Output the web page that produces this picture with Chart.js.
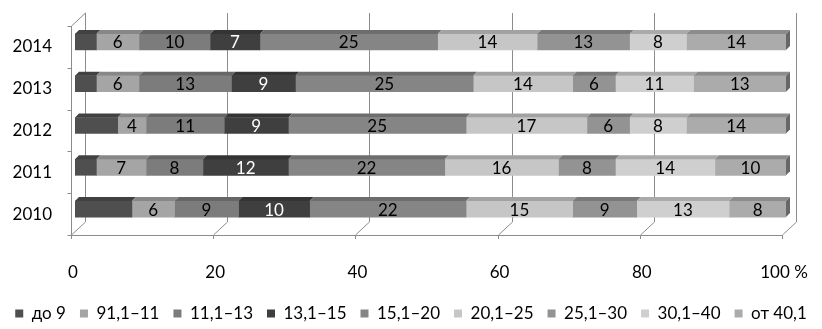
<!DOCTYPE html>
<html lang="ru">
<head>
<meta charset="utf-8">
<script src="https://cdn.jsdelivr.net/npm/chart.js@4.4.1/dist/chart.umd.min.js"></script>
<style>
  html, body { margin: 0; padding: 0; background: #fff; }
  #wrap { width: 822px; height: 329px; position: relative; }
</style>
</head>
<body>
<div id="wrap"><canvas id="chart"></canvas></div>
<script>
// годы (сверху вниз) и группы
const years = ['2014', '2013', '2012', '2011', '2010'];
const groups = ['до 9', '91,1–11', '11,1–13', '13,1–15', '15,1–20', '20,1–25', '25,1–30', '30,1–40', 'от 40,1'];

// доли по группам, %
const do9   = [3, 3, 6, 3, 8];
const g9_11 = [6, 6, 4, 7, 6];
const g11_13 = [10, 13, 11, 8, 9];
const g13_15 = [7, 9, 9, 12, 10];
const g15_20 = [25, 25, 25, 22, 22];
const g20_25 = [14, 14, 17, 16, 15];
const g25_30 = [13, 6, 6, 8, 9];
const g30_40 = [8, 11, 8, 14, 13];
const ot40  = [14, 13, 14, 10, 8];

const xTicks = [0, 20, 40, 60, 80, 100];

const series = [do9, g9_11, g11_13, g13_15, g15_20, g20_25, g25_30, g30_40, ot40];
const colors = ['#4f4f4f', '#a5a5a5', '#7c7c7c', '#3f3f3f', '#858585', '#c6c6c6', '#939393', '#cfcfcf', '#ababab'];

// затемнение цвета для "объёмных" граней
function shade(hex, f) {
    const n = parseInt(hex.slice(1), 16);
    const r = Math.round(((n >> 16) & 255) * f);
    const g = Math.round(((n >> 8) & 255) * f);
    const b = Math.round((n & 255) * f);
    return `rgb(${r},${g},${b})`;
}

const D = 4;          // глубина граней столбца
const FDX = -4, FDY = 5;   // передняя плоскость рамки
const BDX = 10, BDY = -8;  // задняя стенка

// рамка в стиле 3D: стенки, пол, линии сетки
const frame3d = {
    id: 'frame3d',
    beforeDatasetsDraw(chart) {
        const { ctx, chartArea: a, scales: { x, y } } = chart;
        const line = (x1, y1, x2, y2) => {
            ctx.beginPath();
            ctx.moveTo(x1, y1);
            ctx.lineTo(x2, y2);
            ctx.stroke();
        };
        ctx.save();
        ctx.strokeStyle = '#8c8c8c';
        ctx.lineWidth = 1;
        xTicks.forEach(v => {
            const px = Math.round(x.getPixelForValue(v)) + 0.5;
            line(px + BDX, a.top + BDY, px + BDX, a.bottom + BDY);
            line(px + FDX, a.bottom + FDY, px + BDX, a.bottom + BDY);
            line(px + FDX, a.bottom + FDY, px + FDX, a.bottom + FDY + 4);
        });
        const x0 = Math.round(x.getPixelForValue(0)) + 0.5;
        const x100 = Math.round(x.getPixelForValue(100)) + 0.5;
        line(x0 + FDX, a.top + FDY, x0 + FDX, a.bottom + FDY);
        line(x0 + FDX, a.top + FDY, x0 + BDX, a.top + BDY);
        line(x0 + FDX, a.bottom + FDY + 0.5, x100 + FDX, a.bottom + FDY + 0.5);
        for (let i = 0; i <= years.length; i++) {
            const yb = Math.round(y.getPixelForValue(i - 0.5)) + 0.5;
            line(x0 + FDX - 4, yb + FDY, x0 + FDX, yb + FDY);
        }
        ctx.restore();
    },
    afterDatasetsDraw(chart) {
        const { ctx } = chart;
        const last = chart.data.datasets.length - 1;
        ctx.save();
        chart.data.datasets.forEach((ds, i) => {
            const meta = chart.getDatasetMeta(i);
            meta.data.forEach((bar, j) => {
                const p = bar.getProps(['x', 'y', 'base', 'height'], true);
                const yt = p.y - p.height / 2;
                const yb = p.y + p.height / 2;
                ctx.fillStyle = shade(ds.backgroundColor, 0.82);
                ctx.beginPath();
                ctx.moveTo(p.base, yt);
                ctx.lineTo(p.base + D, yt - D);
                ctx.lineTo(p.x + D, yt - D);
                ctx.lineTo(p.x, yt);
                ctx.closePath();
                ctx.fill();
                if (i === last) {
                    ctx.fillStyle = shade(ds.backgroundColor, 0.6);
                    ctx.beginPath();
                    ctx.moveTo(p.x, yt);
                    ctx.lineTo(p.x + D, yt - D);
                    ctx.lineTo(p.x + D, yb - D);
                    ctx.lineTo(p.x, yb);
                    ctx.closePath();
                    ctx.fill();
                }
                // подписи значений (у "до 9" нет)
                if (i > 0) {
                    ctx.fillStyle = i === 3 ? '#ffffff' : '#000000';
                    ctx.font = '17px Lato';
                    ctx.textAlign = 'center';
                    ctx.textBaseline = 'middle';
                    ctx.fillText(String(ds.data[j]), (p.x + p.base) / 2, p.y + 1);
                }
            });
        });
        ctx.restore();
    }
};

const datasets = groups.map((g, i) => ({
    label: g,
    data: series[i],
    backgroundColor: colors[i],
    borderWidth: 0,
    barThickness: 16
}));

new Chart(document.getElementById('chart'), {
    type: 'bar',
    data: { labels: years, datasets: datasets },
    plugins: [frame3d],
    options: {
        indexAxis: 'y',
        responsive: true,
        maintainAspectRatio: false,
        animation: false,
        layout: { padding: { top: 21, right: 0, left: 0, bottom: 0 } },
        scales: {
            x: {
                stacked: true,
                min: 0,
                max: 100,
                afterFit(scale) {
                    scale.height = 61;
                    scale.paddingLeft = 0;
                    scale.paddingRight = 36;
                },
                afterBuildTicks(scale) { scale.ticks = xTicks.map(v => ({ value: v })); },
                grid: { display: false, drawTicks: false },
                border: { display: false },
                ticks: {
                    padding: 32,
                    labelOffset: -2,
                    color: '#000',
                    font: { family: 'Lato', size: 17 },
                    callback: v => v === 100 ? '100 %' : v
                }
            },
            y: {
                stacked: true,
                afterFit(scale) {
                    scale.width = 75;
                    scale.paddingTop = 0;
                    scale.paddingBottom = 0;
                },
                grid: { display: false, drawTicks: false },
                border: { display: false },
                ticks: {
                    padding: 23,
                    labelOffset: 5,
                    color: '#000',
                    font: { family: 'Lato', size: 17 }
                }
            }
        },
        plugins: {
            tooltip: { enabled: false },
            legend: {
                position: 'bottom',
                maxHeight: 38,
                labels: {
                    boxWidth: 8,
                    boxHeight: 8,
                    padding: 14,
                    color: '#000',
                    font: { family: 'Lato', size: 17 }
                }
            }
        }
    }
});
</script>
</body>
</html>
